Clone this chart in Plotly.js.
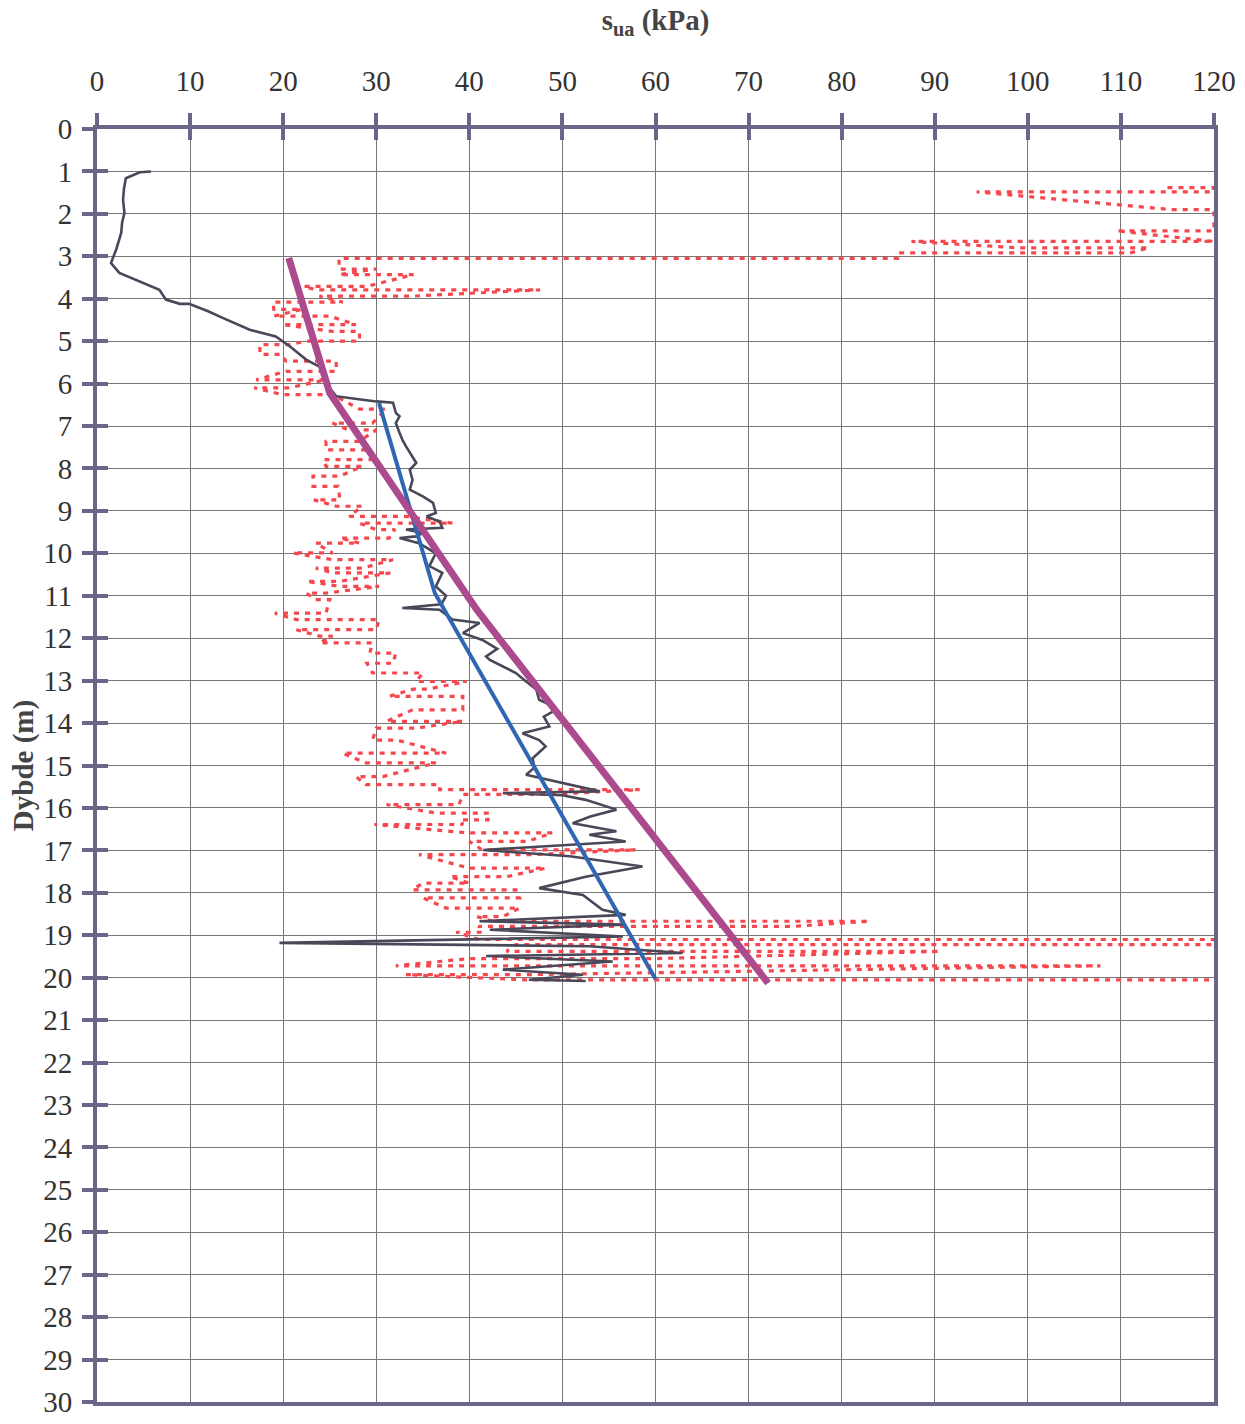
<!DOCTYPE html>
<html>
<head>
<meta charset="utf-8">
<script src="https://cdn.plot.ly/plotly-3.0.1.min.js"></script>
<style>html,body{margin:0;padding:0;background:#fff;}#chart{width:1245px;height:1424px;}</style>
</head>
<body>
<div id="chart"></div>
<script>
// CPT-derived su profile (dark line)
const blackDepth = [1.00,1.02,1.16,1.40,1.67,1.98,2.20,2.45,2.84,3.16,3.39,3.59,3.79,4.02,4.12,4.12,4.30,4.45,4.60,4.73,4.89,5.12,5.44,5.60,5.99,6.30,6.34,6.42,6.45,6.69,6.77,6.93,7.16,7.32,7.48,7.72,7.87,8.03,8.27,8.50,8.66,8.81,9.05,9.13,9.25,9.40,9.44,9.52,9.60,9.64,9.76,10.00,10.30,10.46,10.78,11.00,11.20,11.29,11.33,11.56,11.64,11.88,12.04,12.25,12.43,12.51,12.67,12.82,13.00,13.21,13.45,13.55,13.69,13.85,14.08,14.24,14.40,14.55,14.83,15.05,15.22,15.45,15.61,15.65,15.70,15.81,16.04,16.20,16.36,16.55,16.63,16.79,16.99,17.14,17.38,17.62,17.89,18.05,18.40,18.52,18.67,18.75,18.87,19.03,19.18,19.26,19.42,19.49,19.62,19.81,19.93,20.05,20.08];
const blackSu    = [5.8,4.6,3.1,2.9,2.8,2.95,2.7,2.6,2.06,1.5,2.4,4.6,6.7,7.4,8.9,9.9,12.0,13.5,15.0,16.4,19.2,20.7,22.5,23.9,24.6,25.7,27.1,30.0,31.8,32.1,32.5,32.1,32.5,32.8,33.2,33.9,34.3,33.6,33.9,33.6,35.0,36.1,36.4,35.4,36.8,37.1,33.2,35.0,34.3,32.5,34.6,36.4,35.7,37.1,36.4,37.5,37.0,32.8,36.8,38.2,41.1,39.3,41.4,43.0,41.8,42.2,43.6,45.0,46.0,47.2,47.5,48.5,49.3,48.0,48.6,45.7,47.5,48.2,46.8,47.0,46.1,50.8,54.0,43.6,50.0,52.5,55.8,53.0,51.1,55.8,52.9,56.8,41.5,50.8,58.6,52.5,47.5,52.2,54.3,56.8,41.1,56.5,42.2,56.5,19.6,52.9,62.9,41.8,55.4,43.6,52.2,46.4,52.5];

// Second profile (red dotted): per depth row, lowest and highest reading
const redRowDepth = [1.38,1.48,1.9,2.4,2.65,2.8,2.92,3.05,3.3,3.43,3.71,3.79,3.94,4.08,4.25,4.41,4.61,4.77,5.0,5.08,5.31,5.47,5.71,5.91,6.1,6.26,6.6,6.93,7.09,7.36,7.56,7.79,7.95,8.18,8.42,8.74,8.89,9.13,9.29,9.44,9.64,9.76,9.99,10.15,10.35,10.46,10.66,10.78,10.94,11.09,11.41,11.56,11.8,11.95,12.11,12.35,12.59,12.82,13.02,13.2,13.37,13.69,13.96,14.12,14.4,14.71,14.94,15.26,15.45,15.57,15.68,15.92,16.12,16.28,16.39,16.59,16.79,16.99,17.1,17.42,17.62,17.77,17.93,18.12,18.36,18.56,18.67,18.79,18.93,19.1,19.22,19.38,19.55,19.72,19.93,20.05];
const redRowLow  = [115,94.5,115.5,109.5,87.5,99,86,26,26,26,22.2,23.5,23.9,18.9,19,19,19.9,25.3,22.5,17.5,17.5,20.3,20.3,17.1,16.9,19.9,28.2,25.3,27,24.6,24.6,24.3,24.6,23.2,23.2,23.3,25.7,27.1,28.2,30,26.1,23.5,21.0,25.3,23.5,25.3,22.5,26.1,22.5,23.5,19.1,21.4,21.4,23.9,23.9,29.3,29.0,29.6,34.3,34,31.4,33.9,31.1,30.0,29.6,26.4,28.9,27.8,28.9,36.8,39.3,31.1,36.4,39,29.8,40.0,40.0,41.4,34.6,40.0,37.9,35,33.9,35.0,37.5,40.8,42.5,41,38.6,41,45,44,40,32.1,33.2,46];
const redRowHigh = [120,120,120,120,120,113,111,86,30,34,29,47.6,33.7,26.4,22,25,27.8,28.2,28.2,20.7,19.8,25.7,25.7,24.6,20.6,25.3,31.1,29.6,30,28.2,29.0,30.0,28.5,26.1,25.9,26.1,28.5,33.2,38.2,32,31.4,28.2,25.3,31.8,28.5,31.5,26.1,30.3,24.5,25,24.6,30.3,30.0,25.3,29.6,32.1,31.8,35.0,39.7,35.5,39.3,39.3,39.3,34.3,32.2,37.5,36.4,30.7,36.8,58.3,48.6,38.9,42.2,42,39.3,48.9,46.2,57.9,46.8,48.2,44.0,40,45.0,45.4,45.4,43.6,83,75,41.4,120,120,90.6,60,107.8,46.1,120];

// Interpreted design lines
const magentaDepth = [3.04, 6.22, 11.33, 20.13];
const magentaSu    = [20.6, 25.0, 40.8, 72.1];
const blueDepth = [6.46, 10.94, 20.03];
const blueSu    = [30.3, 36.3, 60.0];

const xTicks = [0,10,20,30,40,50,60,70,80,90,100,110,120];

// build red path: each row traversed starting from the end nearer the previous point
const redX = [], redY = [];
let lastX = null;
redRowDepth.forEach((d, i) => {
  const lo = redRowLow[i], hi = redRowHigh[i];
  let a = lo, b = hi;
  if (lastX !== null && Math.abs(lastX - hi) < Math.abs(lastX - lo)) { a = hi; b = lo; }
  redX.push(a, b); redY.push(d, d);
  lastX = b;
});

const axisCol = '#69668a';
const gridCol = '#777777';
const serif = 'Liberation Serif, Times New Roman, serif';

const traces = [
  {x: redX, y: redY, type: 'scatter', mode: 'lines', line: {color: '#f5484e', width: 3.2, dash: '5px,6px'}, hoverinfo: 'skip'},
  {x: blackSu, y: blackDepth, type: 'scatter', mode: 'lines', line: {color: '#4a4858', width: 2.6}},
  {x: blueSu, y: blueDepth, type: 'scatter', mode: 'lines', line: {color: '#2f67b3', width: 4}},
  {x: magentaSu, y: magentaDepth, type: 'scatter', mode: 'lines', line: {color: '#ab4a8d', width: 7}},
  {x: [0], y: [0], xaxis: 'x2', yaxis: 'y2', type: 'scatter', mode: 'markers', marker: {opacity: 0}, showlegend: false, hoverinfo: 'skip'}
];

const layout = {
  width: 1245, height: 1424,
  margin: {l: 97, r: 31, t: 129, b: 22},
  paper_bgcolor: '#fff', plot_bgcolor: '#fff',
  showlegend: false,
  xaxis: {
    range: [0, 120], side: 'top', tickvals: xTicks, ticktext: xTicks.map(String),
    showgrid: true, gridcolor: gridCol, gridwidth: 1,
    showline: true, linecolor: axisCol, linewidth: 4, mirror: true,
    ticks: 'outside', ticklen: 12, tickwidth: 4, tickcolor: axisCol,
    tickfont: {family: serif, size: 29, color: '#333'},
    ticklabelstandoff: 10,
    zeroline: false,
    title: {text: '<b>s<sub>ua</sub> (kPa)</b>', font: {family: serif, size: 29, color: '#444'}, standoff: 27}
  },
  yaxis: {
    range: [30, 0], dtick: 1, tick0: 0,
    showgrid: true, gridcolor: gridCol, gridwidth: 1,
    showline: true, linecolor: axisCol, linewidth: 4, mirror: true,
    ticks: 'outside', ticklen: 11, tickwidth: 4, tickcolor: axisCol,
    tickfont: {family: serif, size: 29, color: '#333'},
    ticklabelstandoff: 4,
    zeroline: false,
    title: {text: '<b>Dybde (m)</b>', font: {family: serif, size: 29, color: '#444'}, standoff: 2}
  },
  xaxis2: {
    overlaying: 'x', side: 'top', anchor: 'y2', range: [0, 120], tickvals: xTicks,
    showticklabels: false, showgrid: false, showline: false, zeroline: false,
    ticks: 'inside', ticklen: 11, tickwidth: 4, tickcolor: axisCol
  },
  yaxis2: {
    overlaying: 'y', side: 'left', anchor: 'x2', range: [30, 0], dtick: 1, tick0: 0,
    showticklabels: false, showgrid: false, showline: false, zeroline: false,
    ticks: 'inside', ticklen: 11, tickwidth: 4, tickcolor: axisCol
  }
};

Plotly.newPlot('chart', traces, layout, {displayModeBar: false, staticPlot: true});
</script>
</body>
</html>
